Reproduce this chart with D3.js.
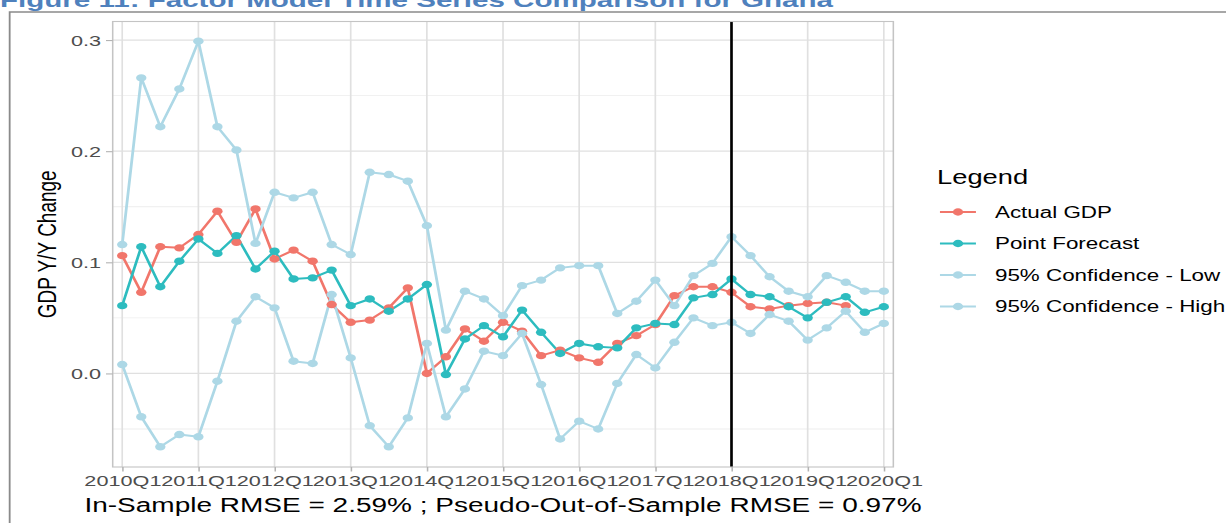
<!DOCTYPE html>
<html>
<head>
<meta charset="utf-8">
<script src="https://cdn.jsdelivr.net/npm/d3@7"></script>
<style>
  html, body { margin: 0; padding: 0; background: #fff; overflow: hidden; }
  text { font-family: "Liberation Sans", Arial, Helvetica, sans-serif; }
</style>
</head>
<body>
<svg id="chart" width="1226" height="523"></svg>
<script>
// Quarterly observations, 2010Q1 – 2020Q1
const quarters = [
  "2010Q1","2010Q2","2010Q3","2010Q4","2011Q1","2011Q2","2011Q3","2011Q4",
  "2012Q1","2012Q2","2012Q3","2012Q4","2013Q1","2013Q2","2013Q3","2013Q4",
  "2014Q1","2014Q2","2014Q3","2014Q4","2015Q1","2015Q2","2015Q3","2015Q4",
  "2016Q1","2016Q2","2016Q3","2016Q4","2017Q1","2017Q2","2017Q3","2017Q4",
  "2018Q1","2018Q2","2018Q3","2018Q4","2019Q1","2019Q2","2019Q3","2019Q4",
  "2020Q1"
];
const tickLabels = ["2010Q1","2011Q1","2012Q1","2013Q1","2014Q1","2015Q1",
                    "2016Q1","2017Q1","2018Q1","2019Q1","2020Q1"];
const splitQuarter = "2018Q1";

const actualGDP = [
  0.106, 0.073, 0.114, 0.113, 0.125, 0.146, 0.118, 0.148,
  0.103, 0.111, 0.101, 0.062, 0.046, 0.048, 0.059, 0.077,
  0.000, 0.015, 0.040, 0.029, 0.046, 0.038, 0.016, 0.021,
  0.014, 0.010, 0.027, 0.034, 0.044, 0.070, 0.078, 0.078,
  0.073, 0.060, 0.058, 0.061, 0.063, 0.064, 0.061, null,
  null
];
const pointForecast = [
  0.061, 0.114, 0.078, 0.101, 0.121, 0.108, 0.124, 0.094,
  0.110, 0.085, 0.086, 0.093, 0.061, 0.067, 0.056, 0.067,
  0.080, -0.001, 0.031, 0.043, 0.033, 0.057, 0.037, 0.018,
  0.027, 0.024, 0.023, 0.041, 0.045, 0.044, 0.068, 0.071,
  0.085, 0.071, 0.069, 0.060, 0.050, 0.064, 0.069, 0.055,
  0.060
];
const ciLow = [
  0.008, -0.039, -0.066, -0.055, -0.057, -0.007, 0.047, 0.069,
  0.059, 0.011, 0.009, 0.071, 0.014, -0.047, -0.066, -0.040,
  0.027, -0.039, -0.014, 0.020, 0.016, 0.036, -0.010, -0.059,
  -0.043, -0.050, -0.009, 0.017, 0.005, 0.028, 0.050, 0.043,
  0.046, 0.036, 0.053, 0.047, 0.030, 0.041, 0.056, 0.037,
  0.045
];
const ciHigh = [
  0.116, 0.266, 0.222, 0.256, 0.299, 0.222, 0.201, 0.117,
  0.163, 0.158, 0.163, 0.116, 0.107, 0.181, 0.179, 0.173,
  0.133, 0.039, 0.074, 0.067, 0.052, 0.079, 0.084, 0.095,
  0.097, 0.097, 0.054, 0.065, 0.084, 0.061, 0.088, 0.099,
  0.123, 0.106, 0.087, 0.074, 0.069, 0.088, 0.082, 0.074,
  0.074
];

const yTicks = [0.0, 0.1, 0.2, 0.3];
const yMinorTicks = [-0.05, 0.05, 0.15, 0.25];
const seriesNames = ["Actual GDP", "Point Forecast", "95% Confidence - Low", "95% Confidence - High"];
const seriesColors = ["#F1766B", "#2DBCBF", "#ADD8E6", "#ADD8E6"];

const titleText = "Figure 11: Factor Model Time Series Comparison for Ghana";
const yTitle = "GDP Y/Y Change";
const xTitle = "In-Sample RMSE = 2.59% ; Pseudo-Out-of-Sample RMSE = 0.97%";

// The figure is drawn in a narrower coordinate space and widened to the page,
// which gives the wide glyphs and oval markers of the exported figure.
const W = 1226, H = 523, stretch = 1.4;
const IW = W / stretch;

const svg = d3.select("#chart")
  .attr("viewBox", `0 0 ${IW} ${H}`)
  .attr("preserveAspectRatio", "none");

const panel = { left: 80.5, right: 638.1, top: 21.5, bottom: 467 };

const x = d3.scalePoint().domain(quarters).range([panel.left, panel.right]).padding(0.5);
const y = d3.scaleLinear().domain([-0.0842, 0.3167]).range([panel.bottom, panel.top]);

// page frame and caption
svg.append("path")
  .attr("d", `M${6.9},${H + 2} L${6.9},12 L${IW + 2},12`)
  .attr("fill", "none").attr("stroke", "#8a8a8a").attr("stroke-width", 1.3);

svg.append("text")
  .attr("x", 0).attr("y", 6.5)
  .attr("font-size", 21).attr("font-weight", "bold")
  .attr("fill", "#4F81BD")
  .attr("textLength", 595).attr("lengthAdjust", "spacingAndGlyphs")
  .text(titleText);

// grid
const grid = svg.append("g");
grid.selectAll("line.minor").data(yMinorTicks).join("line")
  .attr("x1", panel.left).attr("x2", panel.right)
  .attr("y1", d => y(d)).attr("y2", d => y(d))
  .attr("stroke", "#EDEDED").attr("stroke-width", 0.8);
grid.selectAll("line.majorY").data(yTicks).join("line")
  .attr("x1", panel.left).attr("x2", panel.right)
  .attr("y1", d => y(d)).attr("y2", d => y(d))
  .attr("stroke", "#E0E0E0").attr("stroke-width", 1.2);
grid.selectAll("line.majorX").data(tickLabels).join("line")
  .attr("x1", d => x(d)).attr("x2", d => x(d))
  .attr("y1", panel.top).attr("y2", panel.bottom)
  .attr("stroke", "#E0E0E0").attr("stroke-width", 1.2);

// series
const series = [actualGDP, pointForecast, ciLow, ciHigh];
const line = d3.line()
  .defined(d => d.v !== null)
  .x(d => x(d.q)).y(d => y(d.v));
const rows = series.map(vals => quarters.map((q, i) => ({ q, v: vals[i] })));

const lines = svg.append("g");
rows.forEach((r, k) => {
  lines.append("path").datum(r)
    .attr("d", line)
    .attr("fill", "none")
    .attr("stroke", seriesColors[k])
    .attr("stroke-width", 2)
    .attr("stroke-linejoin", "round");
});
const pts = svg.append("g");
rows.forEach((r, k) => {
  pts.selectAll(null).data(r.filter(d => d.v !== null)).join("circle")
    .attr("cx", d => x(d.q)).attr("cy", d => y(d.v))
    .attr("r", 3.7).attr("fill", seriesColors[k]);
});

// split marker
svg.append("line")
  .attr("x1", x(splitQuarter)).attr("x2", x(splitQuarter))
  .attr("y1", panel.top).attr("y2", panel.bottom)
  .attr("stroke", "#000").attr("stroke-width", 1.9);

// panel border
svg.append("rect")
  .attr("x", panel.left).attr("y", panel.top)
  .attr("width", panel.right - panel.left).attr("height", panel.bottom - panel.top)
  .attr("fill", "none").attr("stroke", "#C4C4C4").attr("stroke-width", 1.1);

// y axis
const yAxis = d3.axisLeft(y).tickValues(yTicks).tickFormat(d3.format(".1f"))
  .tickSize(4.8).tickPadding(3.5);
svg.append("g").attr("transform", `translate(${panel.left},0)`).call(yAxis)
  .call(g => g.select(".domain").remove())
  .call(g => g.selectAll(".tick line").attr("stroke", "#B3B3B3").attr("stroke-width", 1.1))
  .call(g => g.selectAll(".tick text").attr("fill", "#4D4D4D")
    .attr("font-size", 15.5).attr("font-family", null));

// x axis
const xAxis = d3.axisBottom(x).tickValues(tickLabels).tickSize(4.5).tickPadding(3.5);
svg.append("g").attr("transform", `translate(0,${panel.bottom})`).call(xAxis)
  .call(g => g.select(".domain").remove())
  .call(g => g.selectAll(".tick line").attr("stroke", "#B3B3B3").attr("stroke-width", 1.1))
  .call(g => g.selectAll(".tick text").attr("fill", "#4D4D4D")
    .attr("font-size", 15.5).attr("font-family", null));

// axis titles
svg.append("text")
  .attr("transform", `translate(33.4,${(panel.top + panel.bottom) / 2}) rotate(-90)`)
  .attr("text-anchor", "middle").attr("dominant-baseline", "central")
  .attr("font-size", 19).attr("fill", "#000")
  .text(yTitle);

svg.append("text")
  .attr("x", (panel.left + panel.right) / 2).attr("y", 512)
  .attr("text-anchor", "middle")
  .attr("font-size", 20).attr("fill", "#000")
  .text(xTitle);

// legend
const legend = svg.append("g");
legend.append("text")
  .attr("x", 669.3).attr("y", 184.3)
  .attr("font-size", 19.5).attr("fill", "#000")
  .text("Legend");
const rowY = [212, 243.5, 275, 306.5];
seriesNames.forEach((name, k) => {
  const g = legend.append("g").attr("transform", `translate(0,${rowY[k]})`);
  g.append("line").attr("x1", 671.4).attr("x2", 697.1).attr("y1", 0).attr("y2", 0)
    .attr("stroke", seriesColors[k]).attr("stroke-width", 2);
  g.append("circle").attr("cx", 684.3).attr("cy", 0).attr("r", 3.7)
    .attr("fill", seriesColors[k]);
  g.append("text").attr("x", 710.7).attr("y", 0)
    .attr("dominant-baseline", "central")
    .attr("font-size", 16).attr("fill", "#000")
    .text(name);
});
</script>
</body>
</html>
